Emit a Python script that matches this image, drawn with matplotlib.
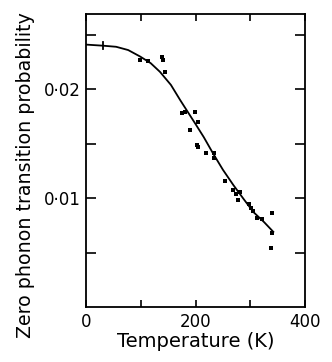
import matplotlib
matplotlib.use("Agg")
import matplotlib.pyplot as plt
from matplotlib.ticker import FuncFormatter

# smooth theoretical curve (temperature K, probability)
curve_t = [0, 31, 55, 77, 99, 118, 135, 155, 172, 186, 200, 215, 232, 250, 269, 288, 306, 325, 342]
curve_p = [0.0241, 0.0240, 0.0239, 0.0236, 0.0230, 0.0224, 0.0216, 0.0204, 0.0190, 0.0179,
           0.0168, 0.0156, 0.0141, 0.0126, 0.0112, 0.0099, 0.0087, 0.0078, 0.0069]

# measured points
meas_t = [99, 114, 138, 141, 144, 175, 181, 190, 199, 204, 202, 205, 219, 233, 234,
          253, 269, 273, 278, 281, 298, 301, 304, 312, 321, 339, 340, 338]
meas_p = [0.0227, 0.0226, 0.0230, 0.0227, 0.0216, 0.0178, 0.0179, 0.0163, 0.0179, 0.0170,
          0.0149, 0.0147, 0.0141, 0.0137, 0.0141, 0.0116, 0.0107, 0.0104, 0.0098, 0.0106,
          0.0095, 0.0091, 0.0088, 0.0082, 0.0081, 0.0086, 0.0068, 0.0054]

x_ticks = [0, 200, 400]
y_ticks = [0.01, 0.02]

fig = plt.figure(figsize=(3.32, 3.62), dpi=100)
ax = fig.add_axes([0.259, 0.152, 0.660, 0.809])

ax.plot(curve_t, curve_p, color="black", linewidth=1.3)
ax.plot(meas_t, meas_p, "s", color="black", markersize=2.6, markeredgewidth=0)
# small error bar near the start of the curve
ax.plot([31, 31], [0.0237, 0.0243], color="black", linewidth=1.3)

ax.set_xlim(0, 400)
ax.set_ylim(0, 0.0269)
ax.set_xticks(x_ticks)
ax.set_xticks([100, 300], minor=True)
ax.set_yticks(y_ticks)
ax.set_yticks([0.005, 0.015, 0.025], minor=True)
ax.yaxis.set_major_formatter(FuncFormatter(lambda v, p: f"{v:.2f}".replace(".", "\u00b7")))
ax.tick_params(which="both", direction="in", top=True, right=True, width=1.2)
ax.tick_params(which="major", length=7, labelsize=12, pad=4)
ax.tick_params(which="minor", length=7)
ax.tick_params(axis="x", which="both", length=5)
for s in ax.spines.values():
    s.set_linewidth(1.3)

ax.set_xlabel("Temperature (K)", fontsize=14, labelpad=1)
fig.text(26 / 332, 1 - 175 / 362, "Zero phonon transition probability", fontsize=13.7,
         rotation=90, ha="center", va="center")

fig.savefig("out.png", dpi=100)
